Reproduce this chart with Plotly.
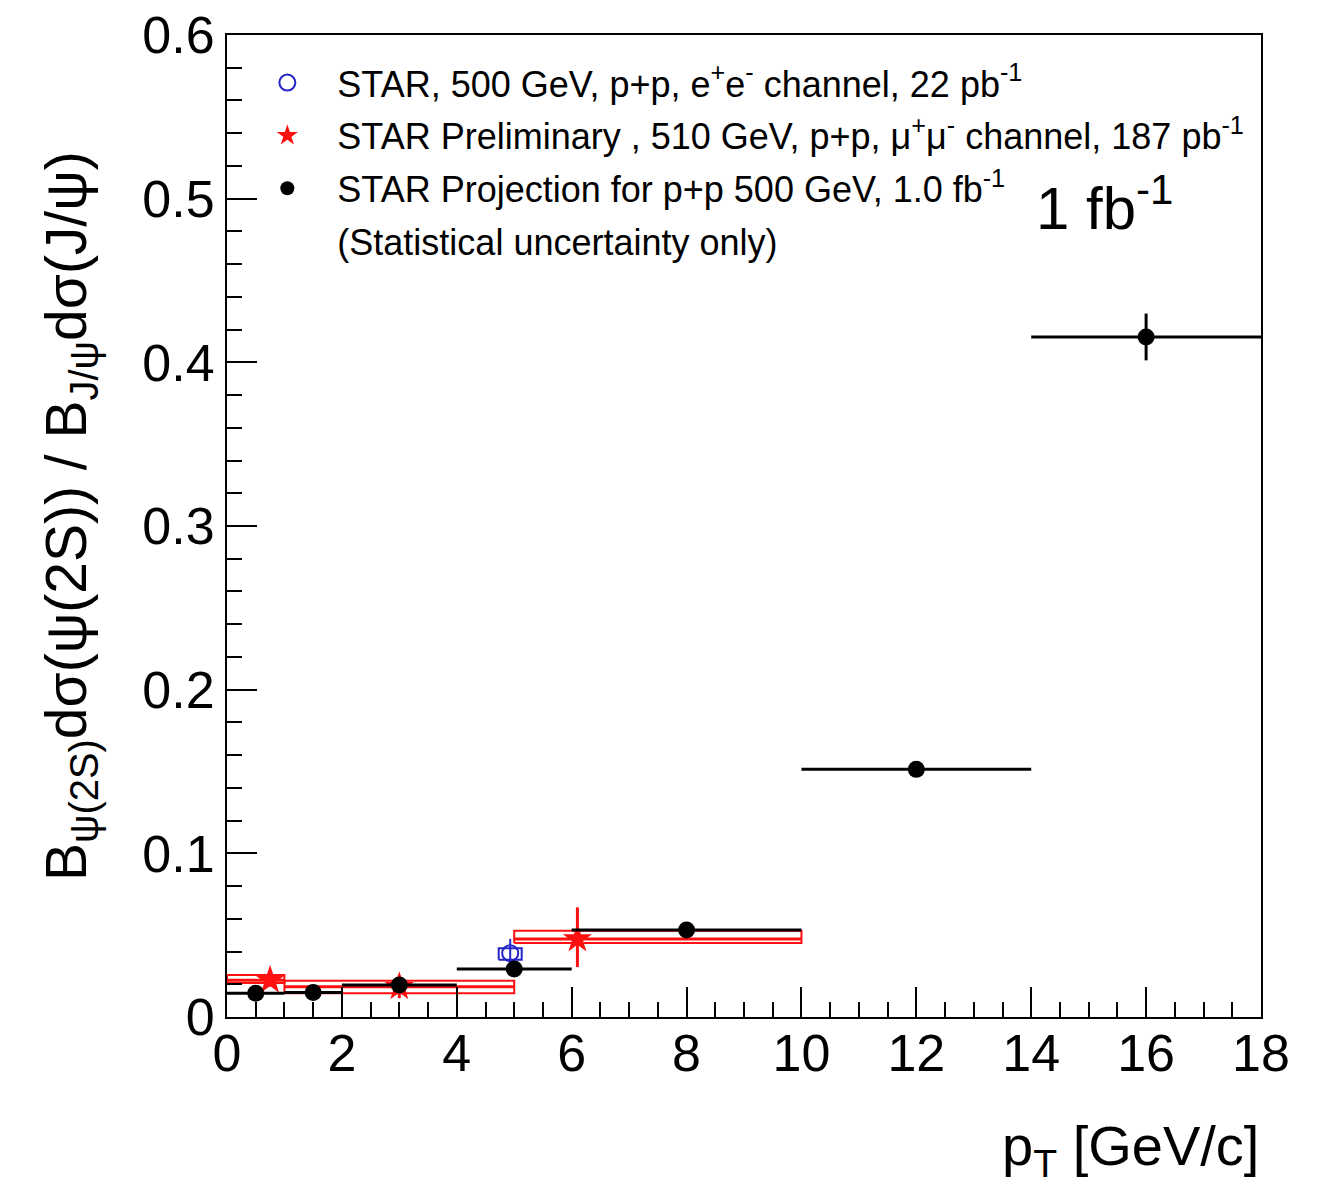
import plotly.graph_objects as go

# ---------------- data ----------------
# STAR Projection for p+p 500 GeV, 1.0 fb^-1 (black)
proj_x = [0.5, 1.5, 3.0, 5.0, 8.0, 12.0, 16.0]
proj_y = [0.0145, 0.0150, 0.0196, 0.0293, 0.0532, 0.1513, 0.4155]
proj_xerr = [0.5, 0.5, 1.0, 1.0, 2.0, 2.0, 2.0]
proj_yerr = [0.002, 0.002, 0.002, 0.0025, 0.003, 0.004, 0.0143]

# STAR Preliminary, 510 GeV, mu+mu- (red)
prel_x = [0.75, 3.0, 6.1]
prel_y = [0.0225, 0.0185, 0.0477]
prel_eyp = [0.004, 0.007, 0.0193]
prel_eym = [0.004, 0.007, 0.0172]
prel_bin_lo = [0.0, 1.0, 5.0]
prel_bin_hi = [1.0, 5.0, 10.0]
prel_sys_lo = [0.0208, 0.0145, 0.0452]
prel_sys_hi = [0.0257, 0.0222, 0.0527]

# STAR, 500 GeV, e+e- (blue)
ee_x = [4.93]
ee_y = [0.039]
ee_err = [0.0087]
ee_box_xlo = [4.73]
ee_box_xhi = [5.13]
ee_sys_lo = [0.035]
ee_sys_hi = [0.042]

legend_names = [
    "STAR, 500 GeV, p+p, e<sup>+</sup>e<sup>-</sup> channel, 22 pb<sup>-1</sup>",
    "STAR Preliminary , 510 GeV, p+p, \u03bc<sup>+</sup>\u03bc<sup>-</sup> channel, 187 pb<sup>-1</sup>",
    "STAR Projection for p+p 500 GeV, 1.0 fb<sup>-1</sup>",
    "(Statistical uncertainty only)",
]

x_ticks = [0, 2, 4, 6, 8, 10, 12, 14, 16, 18]
y_ticks = [0, 0.1, 0.2, 0.3, 0.4, 0.5, 0.6]

RED = "#ff1010"
BLUE = "#2424c8"
FONT = "Liberation Sans, Arial, Helvetica, sans-serif"


def box_path(xlo, xhi, ylo, yhi):
    xs, ys = [], []
    for a, b, c, d in zip(xlo, xhi, ylo, yhi):
        xs += [a, b, b, a, a, None]
        ys += [c, c, d, d, c, None]
    return xs, ys


fig = go.Figure()

# red systematic boxes
bx, by = box_path(prel_bin_lo, prel_bin_hi, prel_sys_lo, prel_sys_hi)
fig.add_trace(go.Scatter(x=bx, y=by, mode="lines", line=dict(color=RED, width=2),
                         showlegend=False, hoverinfo="skip"))

# red points
fig.add_trace(go.Scatter(
    x=prel_x, y=prel_y, mode="markers",
    marker=dict(symbol="star", size=22, color=RED),
    error_x=dict(type="data", symmetric=False,
                 array=[h - x for h, x in zip(prel_bin_hi, prel_x)],
                 arrayminus=[x - l for l, x in zip(prel_bin_lo, prel_x)],
                 color=RED, thickness=3, width=0),
    error_y=dict(type="data", symmetric=False, array=prel_eyp, arrayminus=prel_eym,
                 color=RED, thickness=3, width=0),
    showlegend=False))

# blue box and point
ex, ey = box_path(ee_box_xlo, ee_box_xhi, ee_sys_lo, ee_sys_hi)
fig.add_trace(go.Scatter(x=ex, y=ey, mode="lines", line=dict(color=BLUE, width=2),
                         showlegend=False, hoverinfo="skip"))
fig.add_trace(go.Scatter(
    x=ee_x, y=ee_y, mode="markers",
    marker=dict(symbol="circle-open", size=16, color=BLUE, line=dict(width=2, color=BLUE)),
    error_y=dict(type="data", array=ee_err, color=BLUE, thickness=2, width=0),
    showlegend=False))

# black projection
fig.add_trace(go.Scatter(
    x=proj_x, y=proj_y, mode="markers",
    marker=dict(symbol="circle", size=17, color="black"),
    error_x=dict(type="data", array=proj_xerr, color="black", thickness=3, width=0),
    error_y=dict(type="data", array=proj_yerr, color="black", thickness=3, width=0),
    showlegend=False))

# legend-only entries
leg_markers = [
    dict(symbol="circle-open", size=16, color=BLUE, line=dict(width=2, color=BLUE)),
    dict(symbol="star", size=16, color=RED),
    dict(symbol="circle", size=14, color="black"),
    dict(symbol="circle", size=1, color="rgba(0,0,0,0)"),
]
for i, (nm, mk) in enumerate(zip(legend_names, leg_markers)):
    fig.add_trace(go.Scatter(x=[None], y=[None], mode="markers", marker=mk, name=nm,
                             legendgroup=f"g{i}", showlegend=True))

fig.update_layout(
    width=1321, height=1194,
    margin=dict(l=227, r=60, t=35, b=177, autoexpand=False),
    paper_bgcolor="white", plot_bgcolor="white",
    font=dict(family=FONT, color="black"),
    showlegend=True,
    legend=dict(x=0.010, y=0.982, xanchor="left", yanchor="top",
                bgcolor="rgba(0,0,0,0)", borderwidth=0,
                font=dict(size=36, family=FONT, color="black"),
                itemwidth=90, tracegroupgap=3, traceorder="grouped",
                itemclick=False),
    xaxis=dict(range=[0, 18], tickvals=x_ticks, showgrid=False, zeroline=False,
               automargin=False,
               showline=True, mirror=True, linecolor="black", linewidth=2,
               ticks="inside", ticklen=30, tickwidth=2, tickcolor="black",
               ticklabelstandoff=-10,
               tickfont=dict(size=52, family=FONT),
               minor=dict(ticks="inside", dtick=0.5, ticklen=15, tickwidth=2,
                          tickcolor="black", showgrid=False)),
    yaxis=dict(range=[0, 0.6], tickvals=y_ticks, showgrid=False, zeroline=False,
               automargin=False,
               showline=True, mirror=True, linecolor="black", linewidth=2,
               ticks="inside", ticklen=30, tickwidth=2, tickcolor="black",
               tickfont=dict(size=52, family=FONT),
               minor=dict(ticks="inside", dtick=0.02, ticklen=15, tickwidth=2,
                          tickcolor="black", showgrid=False)),
    annotations=[
        dict(text="B<sub>\u03c8(2S)</sub>d\u03c3(\u03c8(2S)) / B<sub>J/\u03c8</sub>d\u03c3(J/\u03c8)",
             xref="paper", yref="paper", x=-0.152, y=0.51, xanchor="center", yanchor="middle",
             textangle=-90, showarrow=False, font=dict(size=57, family=FONT)),
        dict(text="p<sub>T</sub> [GeV/c]", xref="paper", yref="paper", x=1.0, y=-0.135,
             xanchor="right", yanchor="middle", showarrow=False, font=dict(size=56, family=FONT)),
        dict(text="1 fb<sup>-1</sup>", xref="paper", yref="paper", x=0.78, y=0.828,
             xanchor="left", yanchor="middle", showarrow=False, font=dict(size=60, family=FONT)),
    ],
)

fig.write_html("out.html")
